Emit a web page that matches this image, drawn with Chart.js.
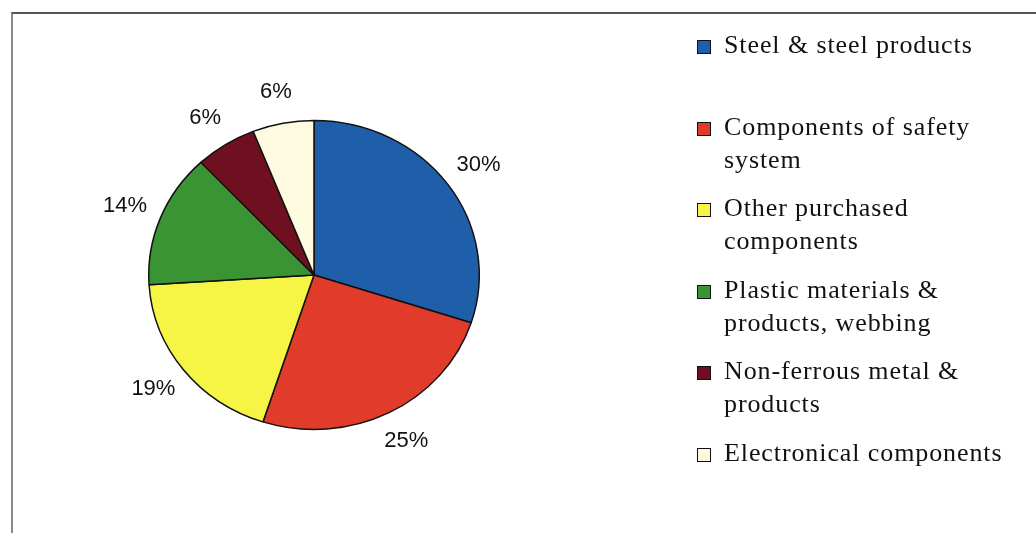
<!DOCTYPE html>
<html>
<head>
<meta charset="utf-8">
<script src="https://cdn.jsdelivr.net/npm/chart.js@4.4.1/dist/chart.umd.min.js"></script>
<style>
  html, body { margin: 0; padding: 0; background: #fff; }
  #wrap { position: relative; width: 1036px; height: 533px; overflow: hidden; }
  #frame {
    position: absolute; left: 11px; top: 12px; width: 1100px; height: 600px;
    border-top: 2px solid #555; border-left: 2px solid #8a8a8a;
  }
  #pie { position: absolute; left: 0; top: 0; }
  #legend {
    position: absolute; left: 697px; top: 28px; width: 318px;
    font-family: "Liberation Serif", "DejaVu Serif", serif; font-size: 26px;
    letter-spacing: 0.9px; color: #111; line-height: 33px;
  }
  .item { position: relative; height: 81.6px; padding-left: 27px; }
  .box {
    position: absolute; left: 0; top: 12px; width: 12px; height: 12px;
    border: 1.5px solid #111;
  }
</style>
</head>
<body>
<div id="wrap">
  <div id="frame"></div>
  <canvas id="pie" width="1036" height="533"></canvas>
  <div id="legend"></div>
</div>
<script>
// Données
const categories = [
  "Steel & steel products",
  "Components of safety system",
  "Other purchased components",
  "Plastic materials & products, webbing",
  "Non-ferrous metal & products",
  "Electronical components",
];
const shares = [30, 25, 19, 14, 6, 6];
const colors = ["#1f5fa9", "#e03b2b", "#f6f545", "#3b9433", "#6e1020", "#fdfadf"];

const squash = 0.935; // the pie in the picture is slightly flatter than a circle

// Légende HTML (texte qui passe à la ligne)
const legendEl = document.getElementById("legend");
categories.forEach((name, i) => {
  const item = document.createElement("div");
  item.className = "item";
  const box = document.createElement("span");
  box.className = "box";
  box.style.background = colors[i];
  item.appendChild(box);
  item.appendChild(document.createTextNode(name));
  legendEl.appendChild(item);
});

const squashPlugin = {
  id: "squash",
  beforeDatasetsDraw(chart) {
    const arc = chart.getDatasetMeta(0).data[0];
    const ctx = chart.ctx;
    ctx.save();
    ctx.translate(0, arc.y);
    ctx.scale(1, squash);
    ctx.translate(0, -arc.y);
  },
  afterDatasetsDraw(chart) {
    chart.ctx.restore();
  },
};

const pctLabels = {
  id: "pctLabels",
  afterDraw(chart) {
    const ctx = chart.ctx;
    const meta = chart.getDatasetMeta(0);
    ctx.save();
    ctx.font = "22px 'Liberation Sans', Arial, sans-serif";
    ctx.fillStyle = "#111";
    ctx.textAlign = "center";
    ctx.textBaseline = "middle";
    meta.data.forEach((arc, i) => {
      const mid = (arc.startAngle + arc.endAngle) / 2;
      const r = arc.outerRadius + 38;
      const x = arc.x + Math.cos(mid) * r;
      const y = arc.y + Math.sin(mid) * (arc.outerRadius * squash + 32);
      ctx.fillText(shares[i] + "%", x, y);
    });
    ctx.restore();
  },
};

const pieCtx = document.getElementById("pie").getContext("2d");
new Chart(pieCtx, {
  type: "pie",
  data: {
    labels: categories,
    datasets: [
      {
        data: shares,
        backgroundColor: colors,
        borderColor: "#111",
        borderWidth: 1.5,
      },
    ],
  },
  options: {
    responsive: false,
    animation: false,
    layout: {
      padding: { top: 109, bottom: 92, left: 148, right: 556 },
    },
    plugins: {
      legend: { display: false },
      tooltip: { enabled: false },
    },
  },
  plugins: [squashPlugin, pctLabels],
});
</script>
</body>
</html>
